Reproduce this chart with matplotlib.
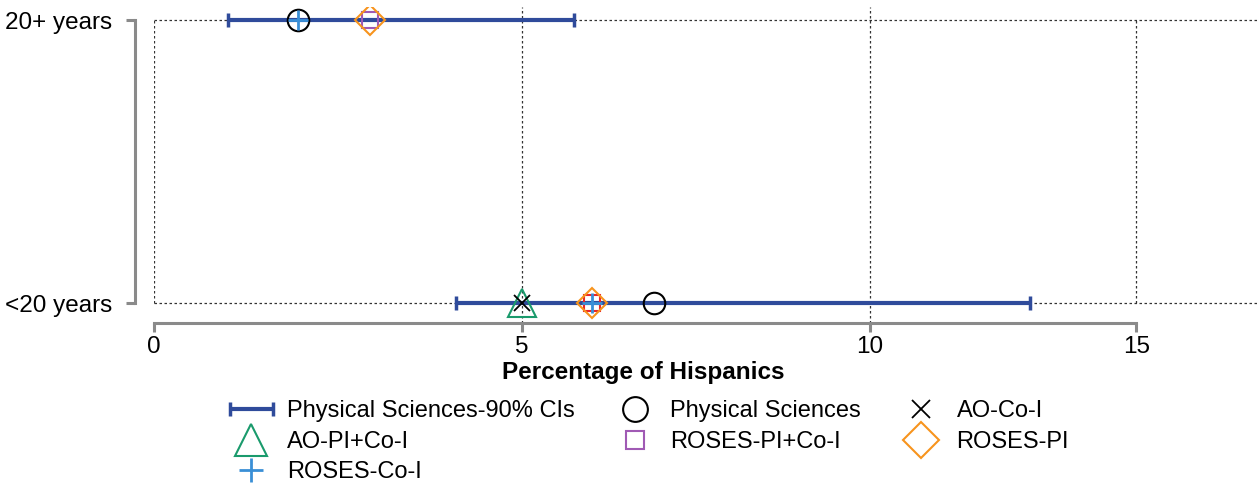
import numpy as np
import matplotlib
matplotlib.use("Agg")
import matplotlib.pyplot as plt
from matplotlib.container import ErrorbarContainer
from matplotlib.legend_handler import HandlerErrorbar

plt.rcParams['font.family'] = ['Liberation Sans', 'DejaVu Sans']

# categories (bottom to top)
categories = ["<20 years", "20+ years"]

# Physical Sciences estimate and its 90% confidence interval
phys_sci = [6.9, 1.95]
ci_low = [4.1, 1.0]
ci_high = [13.0, 5.75]

# other groups (nan = not shown)
ao_coi = [5.0, np.nan]
ao_pi_coi = [5.0, np.nan]
roses_pi_coi = [6.0, 2.93]
roses_pi = [6.0, 2.93]
roses_coi = [6.0, 1.95]

x_ticks = [0, 5, 10, 15]

# the axis of the reference is not evenly spaced between its ticks
scale_vals = [-100, 0, 5, 10, 15, 100]
scale_pos = [-100, 0, 5, 9.728, 13.342, 74.78]


def fwd(v):
    return np.interp(v, scale_vals, scale_pos)


def inv(p):
    return np.interp(p, scale_pos, scale_vals)


grey = '#8a8a8a'
grid_kw = dict(color='#333333', lw=0.9, linestyle=(0, (2, 2)))

fig = plt.figure(figsize=(12.57, 4.84), dpi=100)
ax = fig.add_axes([0.1225, 0.3326, 0.8775, 0.6529])
ax.set_xscale('function', functions=(fwd, inv))

y = np.arange(len(categories))

# gridlines
for yy in y:
    ax.axhline(yy, zorder=0, **grid_kw)
for t in x_ticks:
    if t in (x_ticks[0], x_ticks[-1]):
        ax.vlines(t, y[0], y[-1], zorder=0, **grid_kw)
    else:
        ax.axvline(t, zorder=0, **grid_kw)

ps = np.array(phys_sci)
err = [ps - np.array(ci_low), np.array(ci_high) - ps]
ax.errorbar(ps, y, xerr=err, fmt='none', ecolor='#2f4b9b', elinewidth=3,
            capsize=4.7, capthick=2.5, label='Physical Sciences-90% CIs', zorder=2)

ax.plot(phys_sci, y, 'o', ms=15.5, mfc='none', mec='black', mew=1.5,
        ls='none', label='Physical Sciences', zorder=3)
ax.plot(ao_coi, y, 'x', ms=11, mec='black', mew=1.3, ls='none',
        label='AO-Co-I', zorder=4)
ax.plot(ao_pi_coi, y, '^', ms=20, mfc='none', mec='#1a9a6c', mew=1.5,
        ls='none', label='AO-PI+Co-I', zorder=3)
sq_colors = ['#e8262a', '#a05ab4']
for i in range(len(categories)):
    ax.plot(roses_pi_coi[i], y[i], 's', ms=11.5, mfc='none', mec=sq_colors[i], mew=1.5,
            ls='none', label='ROSES-PI+Co-I' if i == 1 else None, zorder=3)
ax.plot(roses_pi, y, 'D', ms=15.5, mfc='none', mec='#f7941d', mew=1.5,
        ls='none', label='ROSES-PI', zorder=3)
ax.plot(roses_coi, y, '+', ms=15, mec='#3a8fd6', mew=2, ls='none',
        label='ROSES-Co-I', zorder=5)

ax.set_xlim(0, 17.27)
ax.set_ylim(-0.0707, 1.046)
ax.set_xticks(x_ticks)
ax.set_xticklabels([str(t) for t in x_ticks])
ax.set_yticks(y)
ax.set_yticklabels(categories)

for s in ['top', 'right']:
    ax.spines[s].set_visible(False)
ax.spines['left'].set_position(('outward', 13.7))
ax.spines['left'].set_bounds(y[0], y[-1])
ax.spines['bottom'].set_bounds(x_ticks[0], x_ticks[-1])
for s in ['left', 'bottom']:
    ax.spines[s].set_color(grey)
    ax.spines[s].set_linewidth(2.2)
ax.tick_params(axis='x', direction='out', length=6.5, width=2.2, color=grey,
               labelsize=17.5, pad=3)
ax.tick_params(axis='y', direction='out', length=6.5, width=2.2, color=grey,
               labelsize=17.5, pad=10)

ax.set_xlabel('Percentage of Hispanics', fontsize=17.5, fontweight='bold', labelpad=6)
ax.xaxis.set_label_coords(0.444, -0.12)

# legend in the order the reference reads it row by row
h, l = ax.get_legend_handles_labels()
order = ['Physical Sciences-90% CIs', 'AO-PI+Co-I', 'ROSES-Co-I',
         'Physical Sciences', 'ROSES-PI+Co-I', 'AO-Co-I', 'ROSES-PI']
hd = dict(zip(l, h))
fig.legend([hd[k] for k in order], order, ncol=3, frameon=False,
           loc='upper left', bbox_to_anchor=(0.185, 0.173), fontsize=17,
           borderpad=0, borderaxespad=0, handlelength=1.6, handletextpad=0.7,
           columnspacing=1.75, labelspacing=0.36, markerscale=1.15,
           handler_map={ErrorbarContainer: HandlerErrorbar(xerr_size=0.9)})

fig.savefig('out.png', dpi=100)
